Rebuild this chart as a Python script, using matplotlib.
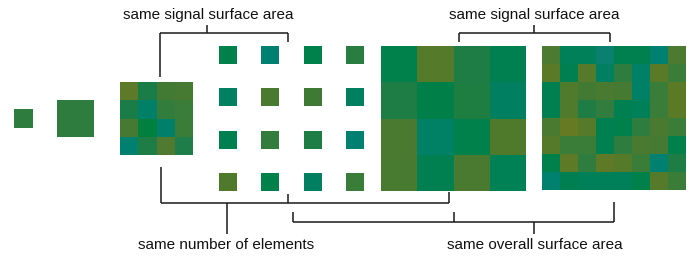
import matplotlib
matplotlib.use("Agg")
import matplotlib.pyplot as plt
from matplotlib.patches import Rectangle

plt.rcParams['font.family'] = ['Liberation Sans', 'DejaVu Sans']

# ---- data: cell colours of every element ----
single_small = ["#2E7D3E"]
single_medium = ["#2E7D3E"]
grid_small = [
    ["#5C7A28", "#1A7D48", "#427A34", "#467A32"],
    ["#1A7D48", "#008066", "#327D3C", "#3A7D38"],
    ["#467A32", "#00803F", "#00806A", "#3A7D38"],
    ["#00806E", "#1E7D44", "#4F7A30", "#1E7D48"],
]
grid_sparse = [
    ["#00804A", "#008070", "#00804A", "#2A7D40"],
    ["#008060", "#4A7A30", "#3F7A35", "#008060"],
    ["#008050", "#327D3E", "#1E7D44", "#008070"],
    ["#4F7A2C", "#00804A", "#008060", "#3A7D38"],
]
grid_big = [
    ["#00804A", "#557A2A", "#1E7D44", "#008050"],
    ["#1E7D44", "#008048", "#1E7D40", "#008060"],
    ["#4A7A30", "#008064", "#00804A", "#4F7A2C"],
    ["#487A30", "#008050", "#4A7A30", "#008055"],
]
grid_fine = [
    ["#4B7A30", "#008058", "#008058", "#0A8070", "#00804E", "#00804E", "#008070", "#4B7A30"],
    ["#5A7A28", "#008050", "#557A2A", "#008060", "#2E7D3E", "#008066", "#5A7A28", "#3A7D38"],
    ["#008050", "#507A2C", "#427A34", "#4A7A30", "#467A32", "#008066", "#3A7D38", "#5A7A26"],
    ["#008050", "#507A2C", "#1E7D44", "#327D3E", "#008050", "#008058", "#3A7D38", "#5A7A26"],
    ["#4A7A30", "#657A22", "#557A2A", "#008050", "#00804A", "#2E7D3E", "#4A7A30", "#3A7D38"],
    ["#557A2A", "#3A7D38", "#3A7D38", "#008050", "#2E7D3E", "#4A7A30", "#467A32", "#00804A"],
    ["#00804A", "#5E7A26", "#2E7D3E", "#5E7A26", "#557A2A", "#3A7D38", "#008070", "#1E7D44"],
    ["#00806E", "#008050", "#008058", "#008058", "#008058", "#00804A", "#557A2A", "#3A7D38"],
]
labels_top = ["same signal surface area", "same signal surface area"]
labels_bottom = ["same number of elements", "same overall surface area"]

W, H = 692, 257
fig = plt.figure(figsize=(W / 100, H / 100), dpi=100)
ax = fig.add_axes([0, 0, 1, 1])
ax.set_xlim(0, W)
ax.set_ylim(H, 0)
ax.axis("off")


def draw_grid(colors, x0, y0, cell, pitch=None):
    if pitch is None:
        pitch = cell
    if isinstance(colors[0], str):
        colors = [colors]
    for r, row in enumerate(colors):
        for c, col in enumerate(row):
            ax.add_patch(Rectangle((x0 + c * pitch, y0 + r * pitch), cell, cell,
                                   facecolor=col, edgecolor="none", lw=0))


draw_grid(single_small, 14, 109, 19)
draw_grid(single_medium, 57, 100, 37)
draw_grid(grid_small, 120, 82, 73 / 4)
draw_grid(grid_sparse, 219, 46, 18, 42.33)
draw_grid(grid_big, 381, 46, 145 / 4)
draw_grid(grid_fine, 542, 46, 144 / 8)

lc = "#1a1a1a"
lw = 1.1


def seg(x1, y1, x2, y2):
    ax.plot([x1, x2], [y1, y2], color=lc, lw=lw, solid_capstyle="butt")


# top-left bracket
seg(160, 33, 288, 33)
seg(160, 33, 160, 77)
seg(288, 33, 288, 42)
seg(207, 25, 207, 33)
ax.text(208, 15, labels_top[0], ha="center", va="center", fontsize=11, color="#111")

# top-right bracket
seg(459, 33, 610, 33)
seg(459, 33, 459, 42)
seg(610, 33, 610, 42)
seg(534, 25, 534, 33)
ax.text(534, 15, labels_top[1], ha="center", va="center", fontsize=11, color="#111")

# bottom bracket 1
seg(160.5, 203, 449, 203)
seg(160.5, 167, 160.5, 203)
seg(449, 192, 449, 203)
seg(288, 194, 288, 203)
seg(227, 203, 227, 234)
ax.text(226, 245, labels_bottom[0], ha="center", va="center", fontsize=11, color="#111")

# bottom bracket 2
seg(293, 221.5, 614, 221.5)
seg(293, 212, 293, 221.5)
seg(614, 202, 614, 221.5)
seg(454, 212, 454, 221.5)
seg(534, 221.5, 534, 234)
ax.text(534.5, 245, labels_bottom[1], ha="center", va="center", fontsize=11, color="#111")

fig.savefig("out.png", dpi=100)
